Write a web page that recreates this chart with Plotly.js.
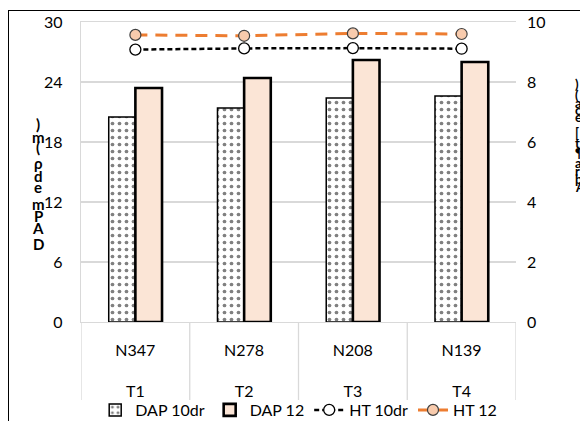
<!DOCTYPE html>
<html>
<head>
<meta charset="utf-8">
<script src="https://cdn.plot.ly/plotly-3.0.1.min.js"></script>
<style>
  html, body { margin: 0; padding: 0; background: #fff; overflow: hidden; }
  #wrap { position: relative; width: 580px; height: 421px; overflow: hidden; }
  #chart { width: 580px; height: 421px; }
  #frame { position: absolute; left: 8px; top: 10px; width: 620px; height: 460px; border: 1px solid #000; pointer-events: none; box-sizing: border-box; }
</style>
</head>
<body>
<div id="wrap"><div id="chart"></div><div id="frame"></div></div>
<script>
// ---- data ----
const treatments = ["T1", "T2", "T3", "T4"];
const nLevels = ["N347", "N278", "N208", "N139"];
const dap10dr = [20.5, 21.4, 22.4, 22.6];
const dap12 = [23.4, 24.4, 26.2, 26.0];
const ht10dr = [9.08, 9.12, 9.13, 9.11];
const ht12 = [9.57, 9.54, 9.62, 9.60];
const leftTitleChars = [")", "m", "(", "ρ", "d", "e", "m", "P", "A", "D"];
const rightTitleChars = [")", "(", "a", "c", "e", "[", "t", "¶", "a", "r", "þ", "A"];

const FONT = "Lato, 'Open Sans', sans-serif";

// plot-area geometry (pixels)
const L = 81, R = 64, T = 22, B = 99, W = 580, H = 421;
const pw = W - L - R, ph = H - T - B;
const px2x = p => (p - L) / pw;
const py2y = p => (H - B - p) / ph;

const traces = [
  {
    type: "bar", name: "DAP 10dr", x: nLevels, y: dap10dr,
    marker: {
      color: "#ffffff",
      line: { color: "#000000", width: 1.5 },
      pattern: { shape: ".", fgcolor: "#808080", bgcolor: "#ffffff", size: 7, solidity: 0.22 }
    }
  },
  {
    type: "bar", name: "DAP 12", x: nLevels, y: dap12,
    marker: { color: "#FBE5D6", line: { color: "#000000", width: 2.6 } }
  },
  {
    type: "scatter", mode: "lines+markers", name: "HT 10dr", x: nLevels, y: ht10dr, yaxis: "y2",
    line: { color: "#000000", width: 2.5, dash: "5px,3px" },
    marker: { symbol: "circle", size: 11, color: "#ffffff", line: { color: "#000000", width: 1.3 } }
  },
  {
    type: "scatter", mode: "lines+markers", name: "HT 12", x: nLevels, y: ht12, yaxis: "y2",
    line: { color: "#ED7D31", width: 3, dash: "12px,8px" },
    marker: { symbol: "circle", size: 11, color: "#F8CBAD", line: { color: "#404040", width: 1.2 } }
  }
];

const annotations = [];
const leftY = [124, 137, 147, 163, 176, 187, 204, 216, 228, 244];
leftTitleChars.forEach((c, i) => {
  annotations.push({
    xref: "paper", yref: "paper", x: px2x(38), y: py2y(leftY[i]),
    xanchor: "center", yanchor: "middle", showarrow: false, text: c,
    font: { family: FONT, size: 15, color: "#000", weight: "bold" }
  });
});
const rightY = [84, 95, 103, 110, 117, 133, 143, 153, 163, 171, 179, 187];
rightTitleChars.forEach((c, i) => {
  annotations.push({
    xref: "paper", yref: "paper", x: px2x(573), y: py2y(rightY[i]),
    xanchor: "left", yanchor: "middle", showarrow: false, text: c,
    font: { family: FONT, size: 13, color: "#000", weight: "bold" }
  });
});

// category dividers in the two-level label area
const shapes = [];
for (let i = 0; i <= nLevels.length; i++) {
  shapes.push({
    type: "line", xref: "x", yref: "paper",
    x0: i - 0.5, x1: i - 0.5, y0: 0, y1: py2y(400),
    line: { color: "#d9d9d9", width: 1.3 }, layer: "below"
  });
}

const layout = {
  width: W, height: H,
  margin: { l: L, r: R, t: T, b: B, autoexpand: false },
  paper_bgcolor: "#ffffff", plot_bgcolor: "#ffffff",
  font: { family: FONT, size: 16, color: "#000" },
  barmode: "group", bargap: 0.51, bargroupgap: 0,
  showlegend: true,
  legend: {
    orientation: "h", xref: "container", x: 0.515, xanchor: "center",
    yref: "container", y: 11 / H, yanchor: "middle",
    font: { family: FONT, size: 16, color: "#000" }, traceorder: "normal",
    itemwidth: 30, bgcolor: "rgba(0,0,0,0)"
  },
  xaxis: {
    type: "category", range: [-0.5, nLevels.length - 0.5],
    tickvals: nLevels,
    ticktext: nLevels.map((n, i) => n + "<br><br>" + treatments[i]),
    showline: true, linecolor: "#d9d9d9", linewidth: 1.3, mirror: true,
    ticks: "", ticklabelstandoff: 13,
    tickfont: { family: FONT, size: 16, color: "#000" },
    showgrid: false
  },
  yaxis: {
    range: [0, 30], dtick: 6, showgrid: true, gridcolor: "#d9d9d9", gridwidth: 1.3,
    zeroline: false, showline: true, linecolor: "#d9d9d9", linewidth: 1.3,
    ticks: "", ticklabelstandoff: 14,
    tickfont: { family: FONT, size: 16, color: "#000" }
  },
  yaxis2: {
    range: [0, 10], dtick: 2, overlaying: "y", side: "right",
    showgrid: false, zeroline: false, showline: false,
    ticks: "", ticklabelstandoff: 10,
    tickfont: { family: FONT, size: 16, color: "#000" }
  },
  annotations: annotations,
  shapes: shapes
};

Plotly.newPlot("chart", traces, layout, { staticPlot: true, displayModeBar: false });
</script>
</body>
</html>
